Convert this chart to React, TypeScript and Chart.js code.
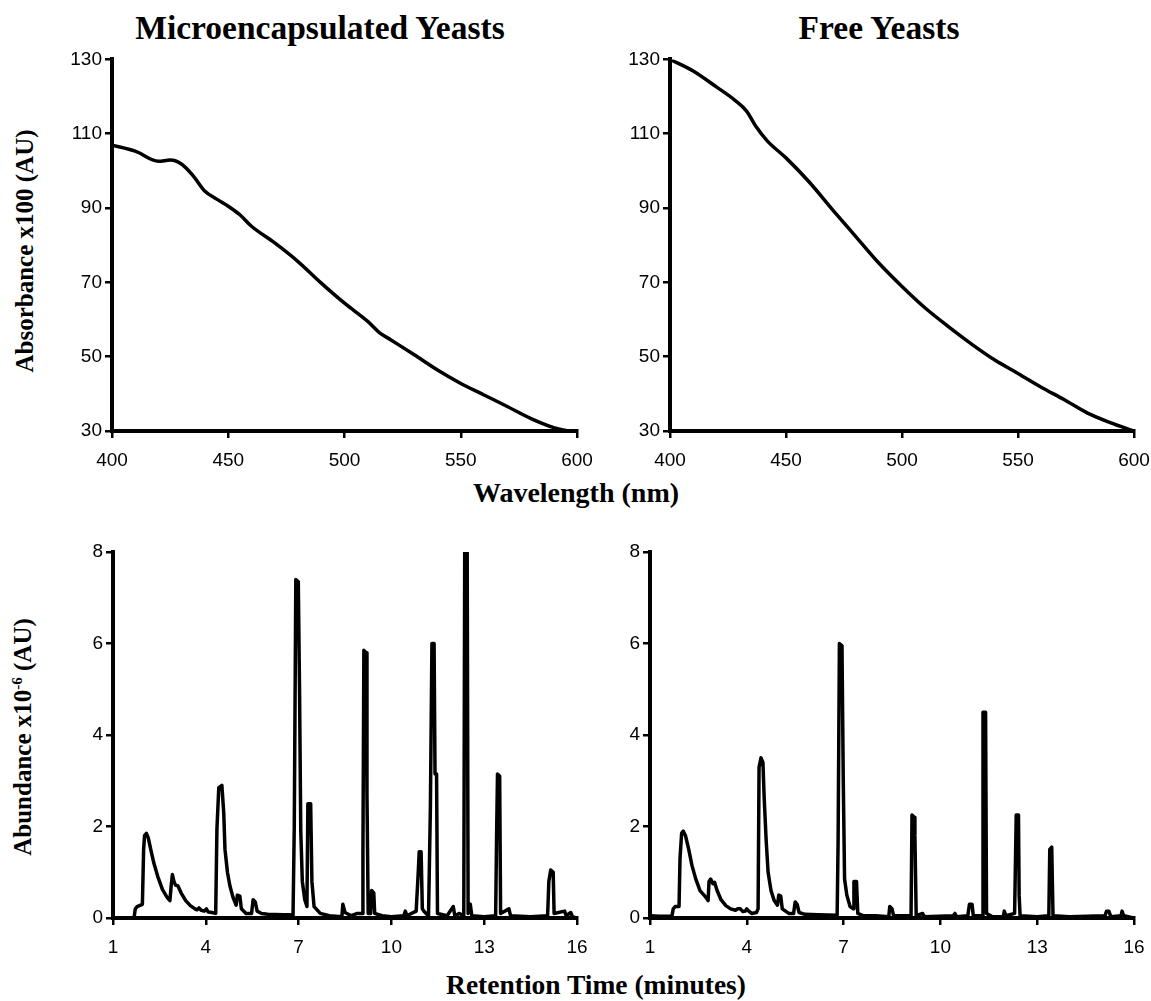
import React, { useEffect, useRef } from "react";
import { Chart, registerables } from "chart.js";

Chart.register(...registerables);

// ---------- data ----------
const wavelengthTicks = [400, 450, 500, 550, 600];
const absorbanceTicks = [30, 50, 70, 90, 110, 130];
const timeTicks = [1, 4, 7, 10, 13, 16];
const abundanceTicks = [0, 2, 4, 6, 8];

const microWavelength = [400, 410, 420, 425, 430, 435, 440, 445, 450, 455, 460, 470, 480, 490, 500, 510, 515, 520, 530, 540, 550, 560, 570, 580, 590, 596];
const microAbsorbance = [106.9, 105.3, 102.6, 102.9, 101.8, 98.6, 94.5, 92.4, 90.5, 88.2, 85.1, 80.6, 75.6, 69.8, 64.4, 59.5, 56.5, 54.5, 50.5, 46.4, 42.8, 39.7, 36.6, 33.4, 30.9, 30];

const freeWavelength = [400, 410, 420, 428, 433, 437, 442, 450, 460, 470, 480, 490, 500, 510, 520, 530, 540, 550, 560, 570, 580, 590, 600];
const freeAbsorbance = [130, 126.9, 122.6, 119.0, 116.1, 112, 108, 103.5, 97, 89.6, 82.4, 75.2, 68.9, 63.1, 58.1, 53.4, 49.1, 45.5, 41.8, 38.4, 34.8, 32.2, 30];

// [retention time (min), abundance x10^-6]
const microChromatogram: [number, number][] = [
  [1.0, 0], [1.68, 0], [1.72, 0.2], [1.78, 0.25], [1.95, 0.3], [1.99, 1.5], [2.02, 1.8], [2.08, 1.85], [2.14, 1.75],
  [2.22, 1.5], [2.32, 1.2], [2.45, 0.9], [2.6, 0.62], [2.75, 0.45], [2.84, 0.38], [2.88, 0.7], [2.92, 0.95], [2.97, 0.8],
  [3.02, 0.72], [3.1, 0.7], [3.2, 0.55], [3.35, 0.38], [3.5, 0.27], [3.65, 0.2], [3.72, 0.18], [3.78, 0.22], [3.85, 0.17],
  [3.95, 0.15], [4.02, 0.2], [4.08, 0.13], [4.2, 0.12], [4.32, 0.1], [4.36, 1.95], [4.42, 2.85], [4.52, 2.9], [4.58, 2.3],
  [4.62, 1.5], [4.7, 1.0], [4.78, 0.7], [4.88, 0.45], [4.98, 0.28], [5.02, 0.5], [5.1, 0.48], [5.15, 0.2], [5.3, 0.1],
  [5.48, 0.1], [5.53, 0.4], [5.6, 0.35], [5.66, 0.15], [5.8, 0.1], [6.0, 0.08], [6.5, 0.07], [6.7, 0.07], [6.82, 0.06],
  [6.86, 2.0], [6.91, 7.4], [6.99, 7.35], [7.03, 5.0], [7.07, 1.9], [7.12, 0.8], [7.2, 0.4], [7.27, 0.25], [7.3, 2.5],
  [7.39, 2.5], [7.43, 0.8], [7.5, 0.25], [7.7, 0.1], [8.0, 0.05], [8.4, 0.03], [8.43, 0.3], [8.5, 0.12], [8.7, 0.05],
  [8.9, 0.1], [9.05, 0.1], [9.08, 1.4], [9.11, 5.85], [9.18, 5.8], [9.21, 2.7], [9.25, 0.1], [9.33, 0.1], [9.36, 0.6],
  [9.43, 0.55], [9.46, 0.1], [9.7, 0.05], [10.0, 0.03], [10.4, 0.05], [10.45, 0.15], [10.5, 0.05], [10.8, 0.15],
  [10.86, 0.9], [10.9, 1.45], [10.96, 1.45], [11.0, 0.2], [11.05, 0.15], [11.2, 0.05], [11.26, 2.4], [11.31, 6.0],
  [11.38, 6.0], [11.41, 3.15], [11.46, 3.15], [11.49, 0.1], [11.8, 0.05], [12.0, 0.25], [12.05, 0.05], [12.2, 0.1],
  [12.34, 0.05], [12.37, 8], [12.45, 8], [12.48, 0.1], [12.55, 0.3], [12.6, 0.05], [13.0, 0.03], [13.37, 0.05],
  [13.4, 1.75], [13.43, 3.15], [13.5, 3.1], [13.53, 0.1], [13.8, 0.2], [13.85, 0.05], [14.5, 0.03], [15.05, 0.05],
  [15.09, 0.8], [15.15, 1.05], [15.23, 1.0], [15.26, 0.1], [15.6, 0.15], [15.65, 0.05], [15.8, 0.12], [15.85, 0.03], [16, 0],
];

const freeChromatogram: [number, number][] = [
  [1.0, 0.05], [1.3, 0.04], [1.68, 0.04], [1.72, 0.2], [1.78, 0.25], [1.9, 0.25], [1.93, 1.3], [1.98, 1.85], [2.03, 1.9],
  [2.1, 1.8], [2.2, 1.5], [2.3, 1.15], [2.42, 0.85], [2.55, 0.6], [2.7, 0.48], [2.8, 0.38], [2.83, 0.8], [2.88, 0.85],
  [2.95, 0.75], [3.0, 0.78], [3.08, 0.6], [3.2, 0.4], [3.35, 0.27], [3.5, 0.2], [3.65, 0.17], [3.72, 0.2], [3.8, 0.2],
  [3.88, 0.14], [3.95, 0.15], [4.0, 0.2], [4.06, 0.15], [4.15, 0.1], [4.3, 0.12], [4.35, 0.2], [4.38, 3.3], [4.44, 3.5],
  [4.5, 3.4], [4.54, 2.6], [4.6, 1.7], [4.66, 1.0], [4.75, 0.6], [4.85, 0.38], [4.95, 0.28], [4.99, 0.5], [5.05, 0.48],
  [5.1, 0.2], [5.3, 0.1], [5.45, 0.1], [5.5, 0.35], [5.56, 0.3], [5.62, 0.12], [5.8, 0.08], [6.2, 0.07], [6.8, 0.06],
  [6.83, 1.7], [6.87, 6.0], [6.95, 5.95], [6.99, 3.0], [7.03, 0.85], [7.1, 0.5], [7.2, 0.25], [7.3, 0.2], [7.32, 0.8],
  [7.4, 0.8], [7.44, 0.1], [7.6, 0.05], [8.0, 0.05], [8.4, 0.03], [8.43, 0.25], [8.5, 0.2], [8.55, 0.05], [8.8, 0.05],
  [9.09, 0.05], [9.12, 2.25], [9.19, 2.2], [9.21, 1.8], [9.25, 0.05], [9.45, 0.1], [9.5, 0.03], [10.4, 0.05], [10.45, 0.1],
  [10.5, 0.03], [10.85, 0.05], [10.9, 0.3], [10.98, 0.3], [11.02, 0.05], [11.29, 0.05], [11.32, 4.5], [11.4, 4.5],
  [11.43, 0.1], [11.6, 0.03], [11.95, 0.03], [11.98, 0.15], [12.03, 0.05], [12.3, 0.1], [12.35, 2.25], [12.42, 2.25],
  [12.44, 0.5], [12.47, 0.05], [13.0, 0.03], [13.36, 0.05], [13.39, 1.5], [13.45, 1.55], [13.49, 0.05], [14.0, 0.03],
  [15.1, 0.05], [15.15, 0.15], [15.22, 0.15], [15.28, 0.03], [15.6, 0.05], [15.63, 0.15], [15.68, 0.05], [16, 0],
];

// ---------- rendering ----------
const SANS = "'Liberation Sans', Arial, sans-serif";
const SERIF = "'Liberation Serif', 'Times New Roman', serif";

type Box = { left: number; top: number; width: number; height: number };
type Plot = { l: number; t: number; r: number; b: number };

function Panel(props: {
  box: Box;
  plot: Plot;
  xs: number[];
  ys: number[];
  xTicks: number[];
  yTicks: number[];
  smooth: boolean;
}) {
  const ref = useRef<HTMLCanvasElement | null>(null);
  const { box, plot, xs, ys, xTicks, yTicks, smooth } = props;

  useEffect(() => {
    const canvas = ref.current;
    if (!canvas) return;
    const padTop = plot.t - box.top;
    const padRight = box.left + box.width - plot.r;
    const yWidth = plot.l - box.left;
    const xHeight = box.top + box.height - plot.b;

    const axisCommon = (ticks: number[]) => ({
      type: "linear" as const,
      min: ticks[0],
      max: ticks[ticks.length - 1],
      afterBuildTicks: (s: any) => {
        s.ticks = ticks.map((v) => ({ value: v }));
      },
      grid: {
        display: true,
        drawOnChartArea: false,
        drawTicks: true,
        tickLength: 7,
        color: "#000",
        tickColor: "#000",
        lineWidth: 2.5,
        tickWidth: 2.5,
      },
      border: { display: true, color: "#000", width: 4 },
      ticks: {
        color: "#000",
        font: { family: SANS, size: 19 },
        autoSkip: false,
        maxRotation: 0,
        minRotation: 0,
      },
    });

    const xAxis: any = axisCommon(xTicks);
    xAxis.ticks.padding = 11;
    xAxis.afterFit = (s: any) => {
      s.height = xHeight;
    };
    const yAxis: any = axisCommon(yTicks);
    yAxis.ticks.padding = 3;
    yAxis.afterFit = (s: any) => {
      s.width = yWidth;
    };

    const chart = new Chart(canvas, {
      type: "line",
      data: {
        datasets: [
          {
            data: xs.map((x, i) => ({ x, y: ys[i] })),
            borderColor: "#000",
            borderWidth: 3.5,
            pointRadius: 0,
            fill: false,
            cubicInterpolationMode: smooth ? "monotone" : "default",
            tension: 0,
            borderJoinStyle: "round",
          },
        ],
      },
      options: {
        animation: false,
        responsive: false,
        devicePixelRatio: 1,
        layout: { padding: { top: padTop, right: padRight, left: 0, bottom: 0 } },
        plugins: { legend: { display: false }, tooltip: { enabled: false }, title: { display: false } },
        scales: { x: xAxis, y: yAxis },
      },
    });
    return () => chart.destroy();
  }, []);

  return (
    <canvas
      ref={ref}
      width={box.width}
      height={box.height}
      style={{ position: "absolute", left: box.left, top: box.top, width: box.width, height: box.height }}
    />
  );
}

const titleStyle: React.CSSProperties = {
  position: "absolute",
  fontFamily: SERIF,
  fontWeight: "bold",
  color: "#000",
  whiteSpace: "nowrap",
  transform: "translate(-50%, -50%)",
  lineHeight: 1,
};

export default function App() {
  return (
    <div style={{ position: "absolute", left: 0, top: 0, width: 1151, height: 1001, background: "#fff", overflow: "hidden" }}>
      <div style={{ ...titleStyle, left: 320, top: 28, fontSize: 33.5 }}>Microencapsulated Yeasts</div>
      <div style={{ ...titleStyle, left: 879, top: 28, fontSize: 33.5 }}>Free Yeasts</div>
      <div style={{ ...titleStyle, left: 24, top: 251, fontSize: 25, transform: "translate(-50%, -50%) rotate(-90deg)" }}>
        Absorbance x100 (AU)
      </div>
      <div style={{ ...titleStyle, left: 576, top: 493, fontSize: 28 }}>Wavelength (nm)</div>
      <div style={{ ...titleStyle, left: 22, top: 737, fontSize: 25, transform: "translate(-50%, -50%) rotate(-90deg)" }}>
        Abundance x10<sup style={{ fontSize: 15, verticalAlign: "top", lineHeight: 1 }}>-6</sup> (AU)
      </div>
      <div style={{ ...titleStyle, left: 596, top: 985, fontSize: 27.5 }}>Retention Time (minutes)</div>

      <Panel
        box={{ left: 40, top: 45, width: 600, height: 435 }}
        plot={{ l: 112, t: 59, r: 577, b: 431 }}
        xs={microWavelength}
        ys={microAbsorbance}
        xTicks={wavelengthTicks}
        yTicks={absorbanceTicks}
        smooth={true}
      />
      <Panel
        box={{ left: 615, top: 45, width: 580, height: 435 }}
        plot={{ l: 670, t: 59, r: 1134, b: 431 }}
        xs={freeWavelength}
        ys={freeAbsorbance}
        xTicks={wavelengthTicks}
        yTicks={absorbanceTicks}
        smooth={true}
      />
      <Panel
        box={{ left: 40, top: 535, width: 600, height: 430 }}
        plot={{ l: 113, t: 552, r: 577, b: 918 }}
        xs={microChromatogram.map((p) => p[0])}
        ys={microChromatogram.map((p) => p[1])}
        xTicks={timeTicks}
        yTicks={abundanceTicks}
        smooth={false}
      />
      <Panel
        box={{ left: 605, top: 535, width: 590, height: 430 }}
        plot={{ l: 650, t: 552, r: 1134, b: 918 }}
        xs={freeChromatogram.map((p) => p[0])}
        ys={freeChromatogram.map((p) => p[1])}
        xTicks={timeTicks}
        yTicks={abundanceTicks}
        smooth={false}
      />
    </div>
  );
}
